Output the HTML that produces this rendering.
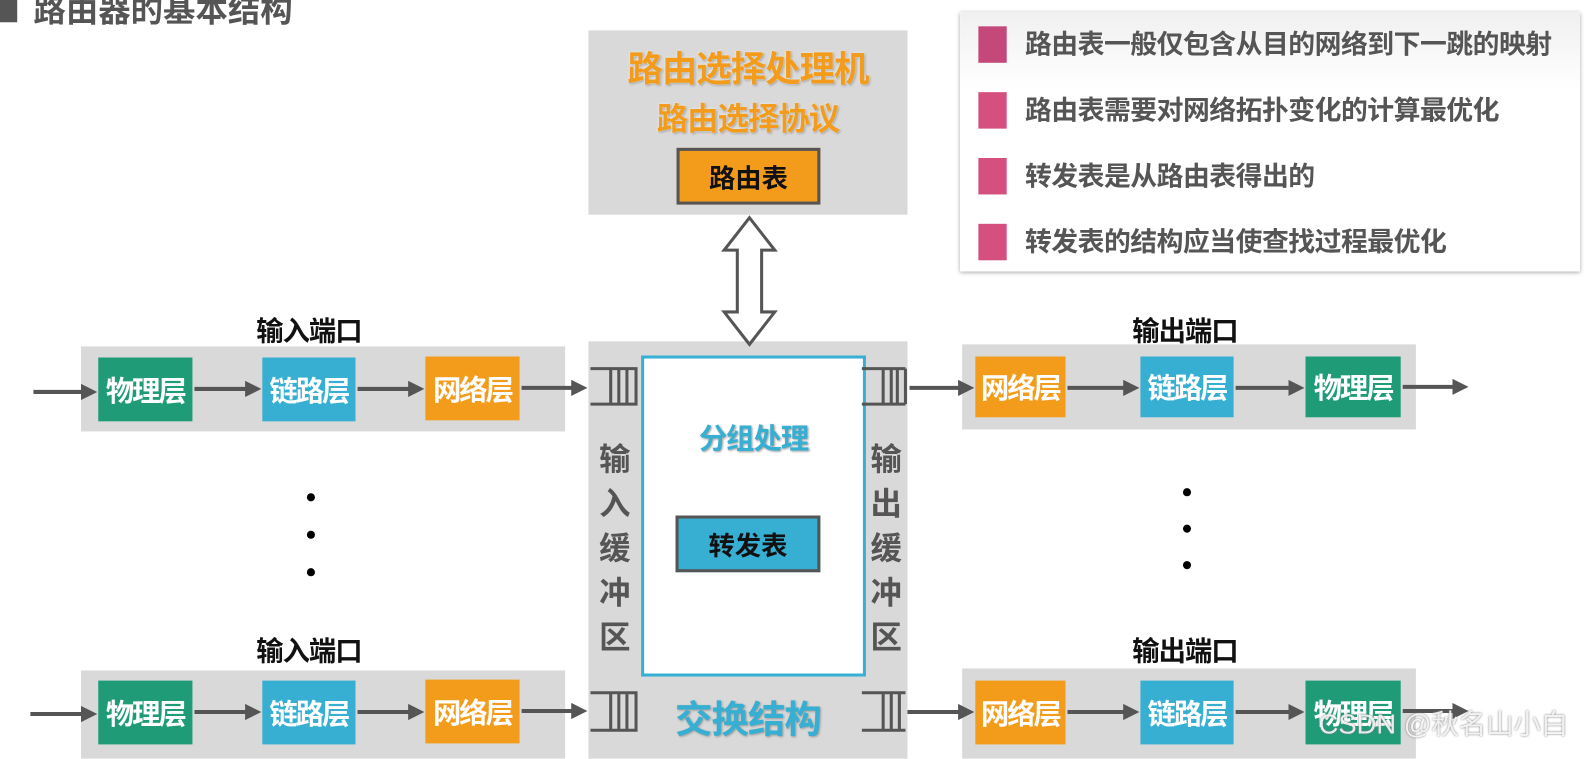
<!DOCTYPE html>
<html><head><meta charset="utf-8"><style>
body{margin:0;width:1588px;height:749px;overflow:hidden;background:#fff;position:relative;font-family:"Liberation Sans","Noto Sans CJK SC",sans-serif;font-weight:bold}
#w{position:absolute;left:0;top:0;width:1568px;height:740px;transform:scale(1.0128);transform-origin:0 0}
.a{position:absolute}
.g{position:absolute;background:#d9d9d9}
.b{position:absolute;color:#fff;font-size:28px;display:flex;align-items:center;justify-content:center;letter-spacing:-2px;white-space:nowrap}
.gr{background:#1f9b78}.bl{background:#37afd2}.or{background:#f39c1b}
.lbl{position:absolute;font-size:27px;color:#111;text-align:center;width:200px;letter-spacing:-1px}
.li{position:absolute;left:1012px;font-size:26.5px;color:#555;line-height:36px;letter-spacing:-0.5px;white-space:nowrap}
.sq{position:absolute;left:966px;width:28px;height:36px;background:#d5507e}
.vt{position:absolute;font-size:31px;color:#555;width:40px;text-align:center;line-height:44px}
</style></head><body><div id="w">
<div class="a" style="left:0;top:0;width:17px;height:22px;background:#555"></div>
<div class="a" style="left:33px;top:-15px;font-size:32px;color:#555">路由器的基本结构</div>

<div class="a" style="left:948px;top:12px;width:612px;height:256px;background:linear-gradient(#f0f0f0,#fff 30%);box-shadow:0 1px 4px rgba(0,0,0,.35)"></div>
<div class="sq" style="top:26px;background:#c4497a"></div><div class="li" style="top:26px">路由表一般仅包含从目的网络到下一跳的映射</div>
<div class="sq" style="top:91px"></div><div class="li" style="top:91px">路由表需要对网络拓扑变化的计算最优化</div>
<div class="sq" style="top:156px"></div><div class="li" style="top:156px">转发表是从路由表得出的</div>
<div class="sq" style="top:221px"></div><div class="li" style="top:221px">转发表的结构应当使查找过程最优化</div>

<div class="g" style="left:581px;top:30px;width:315px;height:182px"></div>
<div class="a" style="left:581px;top:40px;width:315px;text-align:center;font-size:35px;letter-spacing:-1px;color:#f39c1b;text-shadow:0 0 2px #fff,1px 1px 2px #888">路由选择处理机</div>
<div class="a" style="left:581px;top:92px;width:315px;text-align:center;font-size:31px;letter-spacing:-1px;color:#f39c1b;text-shadow:0 0 2px #fff,1px 1px 2px #888">路由选择协议</div>
<div class="b or" style="left:668px;top:146px;width:136px;height:50px;border:3px solid #555;color:#111;font-size:26px;letter-spacing:0">路由表</div>

<div class="g" style="left:581px;top:337px;width:315px;height:412px"></div>
<div class="a" style="left:633px;top:351px;width:216px;height:311px;background:#fff;border:3px solid #37afd2"></div>
<div class="a" style="left:633px;top:412px;width:222px;text-align:center;font-size:28px;letter-spacing:-1px;color:#37afd2;text-shadow:1px 1px 2px #999">分组处理</div>
<div class="b bl" style="left:667px;top:509px;width:137px;height:50px;border:3px solid #555;color:#111;font-size:26px;letter-spacing:0">转发表</div>
<div class="a" style="left:581px;top:680px;width:315px;text-align:center;font-size:37px;letter-spacing:-1px;color:#37afd2;text-shadow:1px 1px 2px #999">交换结构</div>
<div class="vt" style="left:587px;top:432px">输<br>入<br>缓<br>冲<br>区</div>
<div class="vt" style="left:855px;top:432px">输<br>出<br>缓<br>冲<br>区</div>

<div class="g" style="left:80px;top:342px;width:478px;height:84px"></div>
<div class="g" style="left:80px;top:662px;width:478px;height:87px"></div>
<div class="lbl" style="left:205px;top:305px">输入端口</div>
<div class="lbl" style="left:205px;top:621px">输入端口</div>
<div class="b gr" style="left:97px;top:353px;width:93px;height:63px">物理层</div>
<div class="b bl" style="left:259px;top:353px;width:92px;height:63px">链路层</div>
<div class="b or" style="left:420px;top:352px;width:93px;height:63px">网络层</div>
<div class="b gr" style="left:97px;top:672px;width:93px;height:63px">物理层</div>
<div class="b bl" style="left:259px;top:672px;width:92px;height:63px">链路层</div>
<div class="b or" style="left:420px;top:671px;width:93px;height:63px">网络层</div>

<div class="g" style="left:950px;top:340px;width:448px;height:84px"></div>
<div class="g" style="left:950px;top:660px;width:448px;height:89px"></div>
<div class="lbl" style="left:1070px;top:305px">输出端口</div>
<div class="lbl" style="left:1070px;top:621px">输出端口</div>
<div class="b or" style="left:963px;top:352px;width:89px;height:60px">网络层</div>
<div class="b bl" style="left:1126px;top:352px;width:92px;height:60px">链路层</div>
<div class="b gr" style="left:1289px;top:352px;width:94px;height:60px">物理层</div>
<div class="b or" style="left:963px;top:672px;width:89px;height:63px">网络层</div>
<div class="b bl" style="left:1126px;top:672px;width:92px;height:63px">链路层</div>
<div class="b gr" style="left:1289px;top:672px;width:94px;height:63px">物理层</div>

<svg class="a" style="left:0;top:0" width="1588" height="749">
<defs><marker id="m" markerWidth="4" markerHeight="4" refX="3" refY="2" orient="auto" markerUnits="strokeWidth"><path d="M0,0L4,2L0,4z" fill="#555"/></marker></defs>
<g stroke="#555" stroke-width="4" fill="none" marker-end="url(#m)">
<path d="M33 387H92"/><path d="M192 384H254"/><path d="M353 384H415"/><path d="M515 383H576"/>
<path d="M30 705H92"/><path d="M192 703H254"/><path d="M353 703H415"/><path d="M515 702H576"/>
<path d="M898 383H958"/><path d="M1054 383H1121"/><path d="M1220 383H1284"/><path d="M1385 382H1446"/>
<path d="M896 703H958"/><path d="M1054 703H1121"/><path d="M1220 703H1284"/><path d="M1385 702H1446"/>
</g>
<g stroke="#555" stroke-width="3" fill="none">
<path d="M583 364H628V399H583M603 364V399M611 364V399M619 364V399"/>
<path d="M583 684H628V721H583M603 684V721M611 684V721M619 684V721"/>
<path d="M851 364H880V399H851M880 364H894M880 399H894M886 364V399M894 364V399M872 364V399"/>
<path d="M851 684H894M851 721H894M872 684V721M880 684V721M888 684V721"/>
</g>
<path d="M740 215L765 247H752V308H765L740 340L715 308H728V247H715Z" fill="#fff" stroke="#555" stroke-width="3"/>
<g fill="#000"><circle cx="307" cy="491" r="4"/><circle cx="307" cy="528" r="4"/><circle cx="307" cy="565" r="4"/>
<circle cx="1172" cy="486" r="4"/><circle cx="1172" cy="522" r="4"/><circle cx="1172" cy="558" r="4"/></g>
</svg>
<div class="a" style="left:1302px;top:693px;font-size:27px;font-weight:normal;color:rgba(255,255,255,.85);text-shadow:0 0 2px #777">CSDN @秋名山小白</div>
</div></body></html>
